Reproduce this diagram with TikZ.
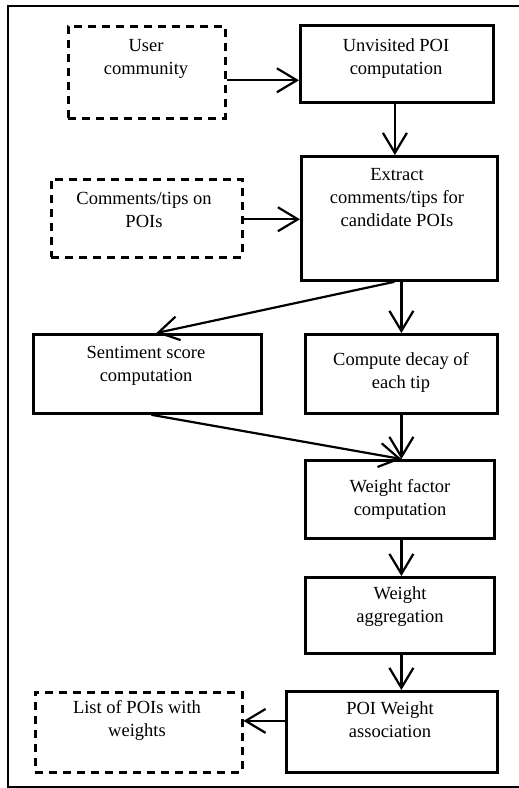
\documentclass[tikz,border=0pt]{standalone}
\usepackage{fontspec}
\setmainfont{Liberation Serif}
\usetikzlibrary{arrows.meta}
\begin{document}
\begin{tikzpicture}[x=1pt,y=-1pt,
  boxst/.style={draw, line width=2.8pt, inner sep=0pt, anchor=north west},
  dbox/.style={boxst, line width=2.5pt, dash pattern=on 8pt off 6pt},
  txt/.style={align=center, inner sep=0pt, font=\fontsize{18.5}{23}\selectfont},
  arr/.style={line width=2.2pt, -{Straight Barb[length=20pt,width=24pt,line width=2.2pt]}}
]
\useasboundingbox (0,0) rectangle (519,788);
\draw[line width=2pt] (7.5,5.5) rectangle (521,787);
% boxes
\node[dbox, minimum width=157pt, minimum height=92pt] (uc) at (67,25) {};
\node[boxst, minimum width=193pt, minimum height=77pt] (up) at (299,24) {};
\node[boxst, minimum width=196pt, minimum height=124pt] (ex) at (300,155) {};
\node[dbox, minimum width=191pt, minimum height=78pt] (ct) at (50,178) {};
\node[boxst, minimum width=228pt, minimum height=79pt] (ss) at (32,333) {};
\node[boxst, minimum width=192pt, minimum height=79pt] (cd) at (304,333) {};
\node[boxst, minimum width=189pt, minimum height=78pt] (wf) at (304,459) {};
\node[boxst, minimum width=189pt, minimum height=76pt] (wa) at (304,576) {};
\node[boxst, minimum width=211pt, minimum height=81pt] (pw) at (285,690) {};
\node[dbox, minimum width=207pt, minimum height=80pt] (lp) at (34,691) {};
% texts
\node[txt] (uct) at (146,59) {User\\community};
\node[txt] (upt) at (396,59) {Unvisited POI\\computation};
\node[txt] (ext) at (397,198) {Extract\\comments/tips for\\candidate POIs};
\node[txt] (ctt) at (144,210) {Comments/tips on\\POIs};
\node[txt] (sst) at (146,366) {Sentiment score\\computation};
\node[txt] (cdt) at (401,372) {Compute decay of\\each tip};
\node[txt] (wft) at (400,499) {Weight factor\\computation};
\node[txt] (wat) at (400,607) {Weight\\aggregation};
\node[txt] (pwt) at (390,720) {POI Weight\\association};
\node[txt] (lpt) at (137,720) {List of POIs with\\weights};
% arrows
\draw[arr] ([yshift=-8pt]uc.east) -- ([yshift=-8pt]up.west |- uc.east);
\draw[arr] ([xshift=-2pt]up.south) -- ([xshift=-2pt]up.south |- ex.north);
\draw[arr] ([yshift=-1pt]ct.east) -- ([yshift=-1pt]ex.west |- ct.east);
\draw[arr] ([xshift=-5pt]ex.south) -- ([xshift=9pt]ss.north);
\draw[arr] ([xshift=2pt]ex.south) -- ([xshift=2pt]ex.south |- cd.north);
\draw[arr] ([xshift=4pt]ss.south) -- ([xshift=1.5pt]wf.north);
\draw[arr] (cd.south) -- (cd.south |- wf.north);
\draw[arr] ([xshift=1.5pt]wf.north |- wf.south) -- ([xshift=1.5pt]wa.north);
\draw[arr] ([xshift=1.5pt]wa.south) -- ([xshift=1.5pt]wa.south |- pw.north);
\draw[arr] ([yshift=11pt]pw.west) -- ([yshift=11pt]lp.east |- pw.west);
\end{tikzpicture}
\end{document}
